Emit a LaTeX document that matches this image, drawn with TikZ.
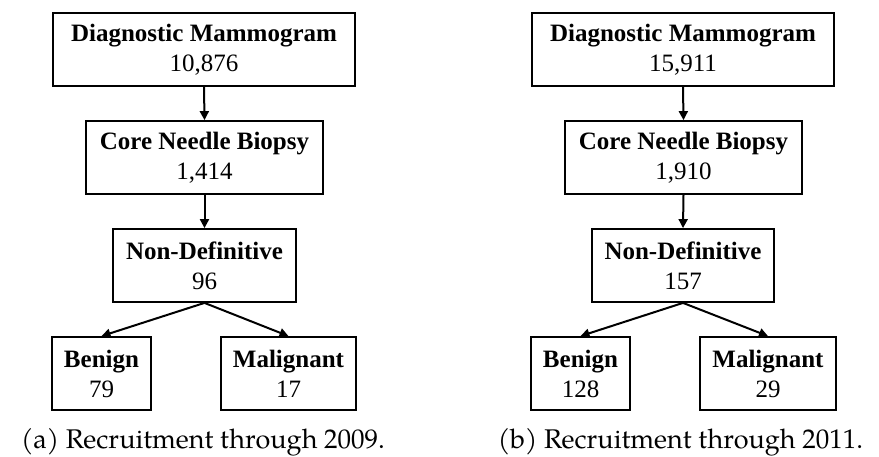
\documentclass[tikz,border=0pt]{standalone}
\usepackage{fontspec}
\setmainfont{Liberation Serif}
\newfontfamily\pagfont{TeX Gyre Pagella}
\usetikzlibrary{arrows.meta}
\newcommand{\capfont}{\pagfont\fontsize{27}{32}\selectfont}
\begin{document}
\begin{tikzpicture}[x=1pt,y=-1pt,
  stepbox/.style={draw=black, line width=1.8pt, minimum height=73pt, inner sep=0pt,
    align=center, font=\fontsize{25}{30}\selectfont},
  conn/.style={line width=2pt, -{Triangle[length=9pt,width=9pt]}},
  captext/.style={anchor=base, inner sep=0pt, font=\capfont}]
\useasboundingbox (0,0) rectangle (879,457);
% left diagram
\node[stepbox, minimum width=302pt] (dmA) at (204,49.5) {\textbf{Diagnostic Mammogram}\\10,876};
\node[stepbox, minimum width=237pt] (cnA) at (204.5,157.5) {\textbf{Core Needle Biopsy}\\1,414};
\node[stepbox, minimum width=183pt] (ndA) at (204.5,265.5) {\textbf{Non-Definitive}\\96};
\node[stepbox, minimum width=99pt] (bnA) at (101.5,373.5) {\textbf{Benign}\\79};
\node[stepbox, minimum width=135pt] (mlA) at (288.5,373.5) {\textbf{Malignant}\\17};
\draw[conn] (dmA.south) -- (cnA.north);
\draw[conn] (cnA.south) -- (ndA.north);
\draw[conn] (ndA.south) -- (bnA.north);
\draw[conn] (ndA.south) -- (mlA.north);
\node[captext] (capA) at (203,448) {(a) Recruitment through 2009.};
% right diagram
\node[stepbox, minimum width=302pt] (dmB) at (683,49.5) {\textbf{Diagnostic Mammogram}\\15,911};
\node[stepbox, minimum width=237pt] (cnB) at (683.5,157.5) {\textbf{Core Needle Biopsy}\\1,910};
\node[stepbox, minimum width=182pt] (ndB) at (683,265.5) {\textbf{Non-Definitive}\\157};
\node[stepbox, minimum width=99pt] (bnB) at (580.5,373.5) {\textbf{Benign}\\128};
\node[stepbox, minimum width=136pt] (mlB) at (768,373.5) {\textbf{Malignant}\\29};
\draw[conn] (dmB.south) -- (cnB.north);
\draw[conn] (cnB.south) -- (ndB.north);
\draw[conn] (ndB.south) -- (bnB.north);
\draw[conn] (ndB.south) -- (mlB.north);
\node[captext] (capB) at (680.5,448) {(b) Recruitment through 2011.};
\end{tikzpicture}
\end{document}
